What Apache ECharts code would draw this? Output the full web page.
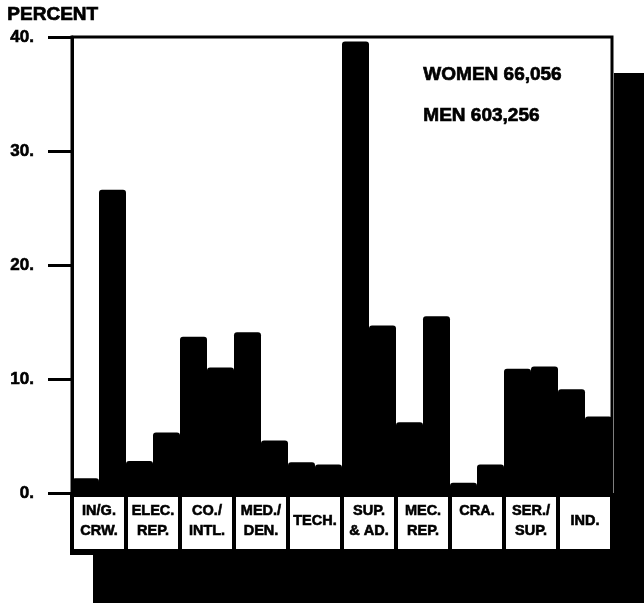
<!DOCTYPE html>
<html>
<head>
<meta charset="utf-8">
<script src="https://cdn.jsdelivr.net/npm/echarts@6/dist/echarts.min.js"></script>
<style>
  html, body { margin: 0; padding: 0; background: #fff; }
  #chart { width: 644px; height: 603px; }
</style>
</head>
<body>
<div id="chart"></div>
<script>
// occupational groups (two-line labels split on \n)
var categories = ['IN/G.\nCRW.', 'ELEC.\nREP.', 'CO./\nINTL.', 'MED./\nDEN.', 'TECH.',
                  'SUP.\n& AD.', 'MEC.\nREP.', 'CRA.\n ', 'SER./\nSUP.', 'IND.'];
// percent of each group
var women = [1.3, 2.8, 13.7, 14.1, 2.7, 39.6, 6.2, 0.9, 10.9, 9.1];
var men   = [26.6, 5.3, 11.0, 4.6, 2.5, 14.7, 15.5, 2.5, 11.1, 6.7];
var yTicks = [0, 10, 20, 30, 40];

var FONT = 'Liberation Sans';
var myChart = echarts.init(document.getElementById('chart'));

// heavy print look
var ink = { color: '#000', fontFamily: FONT, fontWeight: 'bold', textBorderColor: '#000', textBorderWidth: 0.6 };

var option = {
    backgroundColor: '#fff',
    animation: false,
    grid: {
        left: 72, right: 32, top: 37, bottom: 110,
        show: true,
        borderColor: '#000',
        borderWidth: 3
    },
    xAxis: {
        type: 'category',
        data: categories,
        axisLine: { show: false },
        axisTick: { show: false },
        axisLabel: {
            interval: 0,
            margin: 4,
            width: 46,
            height: 44,
            padding: [4, 2, 4, 2],
            backgroundColor: '#fff',
            align: 'center',
            formatter: function (v) {
                var lines = v.split('\n');
                if (lines.length === 1) return '{c|' + v + '}';
                return lines.map(function (l) { return '{a|' + l + '}'; }).join('\n');
            },
            rich: {
                a: Object.assign({ fontSize: 14.5, lineHeight: 20, align: 'center' }, ink),
                c: Object.assign({ fontSize: 14.5, lineHeight: 40, align: 'center' }, ink)
            }
        }
    },
    yAxis: {
        type: 'value',
        min: yTicks[0],
        max: yTicks[yTicks.length - 1],
        interval: 10,
        axisLine: { show: true, lineStyle: { color: '#000', width: 3 } },
        axisTick: { show: true, length: 24, lineStyle: { color: '#000', width: 3 } },
        splitLine: { show: false },
        axisLabel: Object.assign({
            margin: 38,
            fontSize: 17,
            formatter: function (v) { return v + '.'; }
        }, ink)
    },
    series: [
        {
            name: 'WOMEN', type: 'bar', data: women,
            barGap: '0%', barCategoryGap: '0%',
            itemStyle: { color: '#000', borderRadius: [3, 3, 0, 0] }
        },
        {
            name: 'MEN', type: 'bar', data: men,
            barGap: '0%', barCategoryGap: '0%',
            itemStyle: { color: '#000', borderRadius: [3, 3, 0, 0] }
        }
    ],
    graphic: [
        // dark scan edges around the chart
        { type: 'rect', z: -10, shape: { x: 70, y: 493, width: 574, height: 62 }, style: { fill: '#000' } },
        { type: 'rect', z: -10, shape: { x: 93, y: 553, width: 551, height: 50 }, style: { fill: '#000' } },
        { type: 'rect', z: -10, shape: { x: 614, y: 73, width: 30, height: 530 }, style: { fill: '#000' } },
        { type: 'text', left: 7, top: 5, style: { text: 'PERCENT', fill: '#000', stroke: '#000', lineWidth: 0.7, font: 'bold 19px ' + FONT } },
        { type: 'text', left: 423, top: 65, style: { text: 'WOMEN 66,056', fill: '#000', stroke: '#000', lineWidth: 0.7, font: 'bold 19px ' + FONT } },
        { type: 'text', left: 423, top: 106, style: { text: 'MEN 603,256', fill: '#000', stroke: '#000', lineWidth: 0.7, font: 'bold 19px ' + FONT } }
    ]
};

myChart.setOption(option);
</script>
</body>
</html>
